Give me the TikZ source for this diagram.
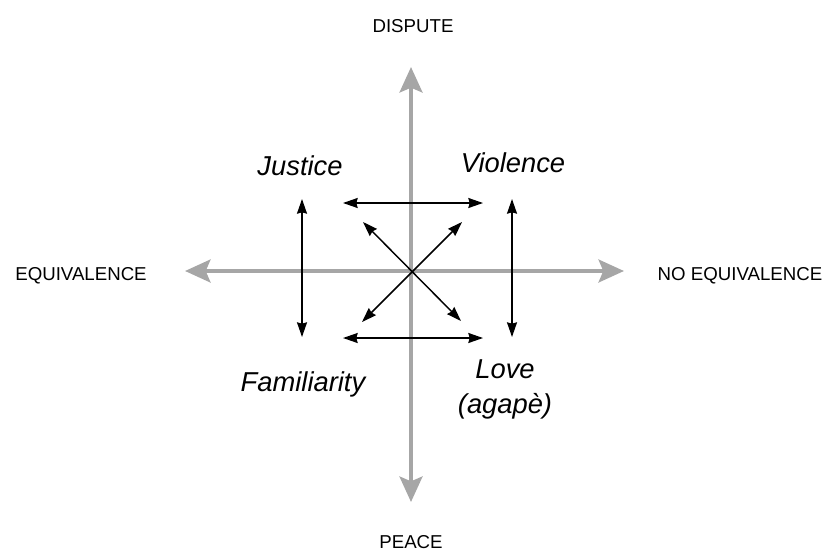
\documentclass[tikz,border=0pt]{standalone}
\usepackage{fontspec}
\setmainfont{Liberation Sans}
\usetikzlibrary{arrows.meta}
\definecolor{gri}{RGB}{166,166,166}
\tikzset{
  axa/.style      = {draw=gri, line width=3.3pt,
                     {Stealth[length=19pt, width=17pt, inset=3.5pt]}-{Stealth[length=19pt, width=17pt, inset=3.5pt]}},
  sageata/.style  = {line width=1.1pt,
                     {Stealth[length=11pt, width=7.5pt, inset=1pt]}-{Stealth[length=11pt, width=7.5pt, inset=1pt]}},
  capat/.style    = {font=\fontsize{14}{17}\selectfont, inner sep=0pt, anchor=base},
  tip/.style      = {font=\fontsize{20.5}{26.25}\selectfont\itshape, align=center, inner sep=0pt, anchor=base}
}

\begin{document}
\begin{tikzpicture}[x=0.75pt, y=-0.75pt]
  \useasboundingbox (0,0) rectangle (827,550);

  % axes
  \coordinate (sus) at (411,67);
  \coordinate (jos) at (411,502);
  \coordinate (stanga) at (185,271);
  \coordinate (dreapta) at (624,271);
  \draw[axa] (sus) -- (jos);
  \draw[axa] (stanga) -- (dreapta);

  \node[capat] (disputa) at (413,32) {DISPUTE};
  \node[capat] (pace) at (411,548) {PEACE};
  \node[capat] (echiv) at (81,280) {EQUIVALENCE};
  \node[capat] (nonechiv) at (740,280) {NO EQUIVALENCE};

  % the four types
  \node[tip] (justitie) at (300,175) {Justice};
  \node[tip] (violenta) at (513,172) {Violence};
  \node[tip] (familiar) at (303,391) {Familiarity};
  \node[tip] (iubire) at (505,413) {Love\\(agapè)};

  % small arrows
  \coordinate (a1) at (343,203);
  \coordinate (a2) at (483,203);
  \coordinate (b1) at (343,338);
  \coordinate (b2) at (483,338);
  \coordinate (c1) at (302,199);
  \coordinate (c2) at (302,337);
  \coordinate (d1) at (512,199);
  \coordinate (d2) at (512,337);
  \coordinate (e1) at (363,222);
  \coordinate (e2) at (461,321);
  \coordinate (f1) at (462,222);
  \coordinate (f2) at (362,322);

  \draw[sageata] (a1) -- (a2);
  \draw[sageata] (b1) -- (b2);
  \draw[sageata] (c1) -- (c2);
  \draw[sageata] (d1) -- (d2);
  \draw[sageata] (e1) -- (e2);
  \draw[sageata] (f1) -- (f2);
\end{tikzpicture}
\end{document}
